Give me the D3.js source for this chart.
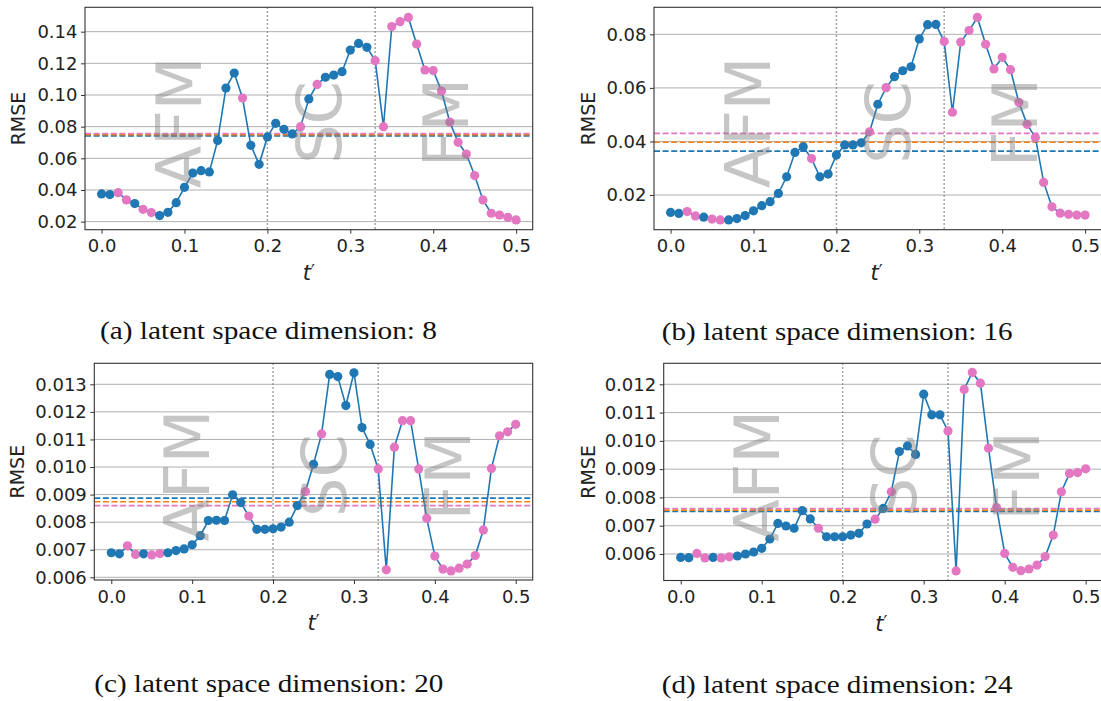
<!DOCTYPE html>
<html>
<head>
<meta charset="utf-8">
<script src="https://cdn.jsdelivr.net/npm/d3@7"></script>
<style>
  html, body { margin: 0; padding: 0; background: #fff; }
  svg { display: block; }
</style>
</head>
<body>
<script>
// ---------------- DATA ----------------
const tValues = [0.00,0.01,0.02,0.03,0.04,0.05,0.06,0.07,0.08,0.09,
                 0.10,0.11,0.12,0.13,0.14,0.15,0.16,0.17,0.18,0.19,
                 0.20,0.21,0.22,0.23,0.24,0.25,0.26,0.27,0.28,0.29,
                 0.30,0.31,0.32,0.33,0.34,0.35,0.36,0.37,0.38,0.39,
                 0.40,0.41,0.42,0.43,0.44,0.45,0.46,0.47,0.48,0.49,0.50];

// point class (b = blue, p = pink), shared by all panels
const pointClass = ["b","b","p","p","b","p","p","b","b","b",
                    "b","b","b","b","b","b","b","p","b","b",
                    "b","b","b","b","p","b","p","b","b","b",
                    "b","b","b","p","p","p","p","p","p","p",
                    "p","p","p","p","p","p","p","p","p","p","p"];

const rmseDim8 = [0.0375,0.0371,0.0383,0.0337,0.0314,0.0278,0.0257,0.0238,0.0259,0.0320,
                  0.0417,0.0507,0.0522,0.0514,0.0712,0.1044,0.1139,0.0981,0.0682,0.0562,
                  0.0735,0.0821,0.0783,0.0754,0.0800,0.0975,0.1067,0.1112,0.1126,0.1147,
                  0.1284,0.1326,0.1301,0.1217,0.0800,0.1432,0.1463,0.1490,0.1322,0.1158,
                  0.1154,0.1025,0.0829,0.0701,0.0627,0.0491,0.0337,0.0253,0.0242,0.0227,0.0211];

const rmseDim16 = [0.0135,0.0131,0.0138,0.0122,0.0117,0.0110,0.0107,0.0107,0.0112,0.0123,
                   0.0141,0.0160,0.0175,0.0206,0.0268,0.0359,0.0380,0.0336,0.0268,0.0278,
                   0.0349,0.0387,0.0387,0.0395,0.0436,0.0539,0.0601,0.0642,0.0664,0.0679,
                   0.0783,0.0836,0.0837,0.0773,0.0509,0.0771,0.0814,0.0863,0.0763,0.0671,
                   0.0714,0.0668,0.0546,0.0464,0.0415,0.0247,0.0156,0.0132,0.0128,0.0125,0.0125];

const rmseDim20 = [0.00689,0.00685,0.00714,0.00683,0.00685,0.00681,0.00686,0.00689,0.00697,0.00703,
                   0.00718,0.00751,0.00806,0.00807,0.00806,0.00899,0.00871,0.00822,0.00774,0.00774,
                   0.00776,0.00782,0.00800,0.00860,0.00911,0.01010,0.01120,0.01336,0.01328,0.01223,
                   0.01342,0.01143,0.01082,0.00993,0.00627,0.01072,0.01168,0.01168,0.00993,0.00814,
                   0.00677,0.00630,0.00623,0.00633,0.00648,0.00679,0.00772,0.00995,0.01113,0.01128,0.01155];

const rmseDim24 = [0.00588,0.00587,0.00602,0.00586,0.00588,0.00586,0.00590,0.00593,0.00600,0.00607,
                   0.00620,0.00653,0.00708,0.00699,0.00691,0.00753,0.00724,0.00691,0.00661,0.00661,
                   0.00661,0.00667,0.00673,0.00706,0.00723,0.00761,0.00820,0.00962,0.00982,0.00952,
                   0.01165,0.01092,0.01092,0.01035,0.00540,0.01182,0.01242,0.01204,0.00974,0.00764,
                   0.00602,0.00553,0.00541,0.00547,0.00561,0.00591,0.00667,0.00820,0.00885,0.00888,0.00901];

// mean levels (blue, orange, pink dashed lines)
const meanDim8  = [0.0742, 0.0749, 0.0757];
const meanDim16 = [0.0364, 0.0397, 0.0430];
const meanDim20 = [0.00887, 0.00874, 0.00860];
const meanDim24 = [0.00750, 0.00755, 0.00761];

const yTicksDim8  = [0.02,0.04,0.06,0.08,0.10,0.12,0.14];
const yTicksDim16 = [0.02,0.04,0.06,0.08];
const yTicksDim20 = [0.006,0.007,0.008,0.009,0.010,0.011,0.012,0.013];
const yTicksDim24 = [0.006,0.007,0.008,0.009,0.010,0.011,0.012];

const xTicks = [0.0,0.1,0.2,0.3,0.4,0.5];
const phaseBoundaries = [0.2, 0.33];
const regionLabels = ["AFM","SC","FM"];
const regionCenters = [0.093, 0.262, 0.415];

const captions = ["(a) latent space dimension: 8",
                  "(b) latent space dimension: 16",
                  "(c) latent space dimension: 20",
                  "(d) latent space dimension: 24"];

// ---------------- STYLE / LAYOUT ----------------
const BLUE = "#1f77b4", ORANGE = "#ff7f0e", PINK = "#e377c2";
const meanColors = [BLUE, ORANGE, PINK];
const classColor = {b: BLUE, p: PINK};

const panels = [
  {values: rmseDim8,  means: meanDim8,  yTicks: yTicksDim8,  fmt: ".2f", caption: captions[0],
   left: 85,    right: 532.7,  top: 7.3,   bottom: 229.7, xDom: [-0.02, 0.52],  yDom: [0.0149, 0.1554],
   rmseX: 25,  capX: 100,   capY: 338.5, capW: 337},
  {values: rmseDim16, means: meanDim16, yTicks: yTicksDim16, fmt: ".2f", caption: captions[1],
   left: 654,   right: 1101.7, top: 7.3,   bottom: 229.7, xDom: [-0.02, 0.52],  yDom: [0.00704, 0.0901],
   rmseX: 595, capX: 661.7, capY: 339.5, capW: 351},
  {values: rmseDim20, means: meanDim20, yTicks: yTicksDim20, fmt: ".3f", caption: captions[2],
   left: 94.3,  right: 532.7,  top: 363.3, bottom: 580,   xDom: [-0.021, 0.521], yDom: [0.005902, 0.013762],
   rmseX: 24,  capX: 94.3,  capY: 691.5, capW: 349},
  {values: rmseDim24, means: meanDim24, yTicks: yTicksDim24, fmt: ".3f", caption: captions[3],
   left: 663.7, right: 1102.7, top: 363.3, bottom: 580.5, xDom: [-0.021, 0.521], yDom: [0.005063, 0.012742],
   rmseX: 595, capX: 661.7, capY: 692.5, capW: 351}
];

const W = 1101, H = 701;
const svg = d3.select("body").append("svg").attr("width", W).attr("height", H)
  .style("font-family", "'DejaVu Sans', sans-serif");

panels.forEach((p, pi) => {
  const x = d3.scaleLinear().domain(p.xDom).range([p.left, p.right]);
  const y = d3.scaleLinear().domain(p.yDom).range([p.bottom, p.top]);
  const g = svg.append("g");
  const clipId = "clip" + pi;
  svg.append("clipPath").attr("id", clipId).append("rect")
    .attr("x", p.left).attr("y", p.top).attr("width", p.right - p.left).attr("height", p.bottom - p.top);

  const plot = g.append("g").attr("clip-path", `url(#${clipId})`);

  // horizontal grid
  plot.selectAll(".grid").data(p.yTicks).join("line")
    .attr("x1", p.left).attr("x2", p.right)
    .attr("y1", d => y(d)).attr("y2", d => y(d))
    .attr("stroke", "#b0b0b0").attr("stroke-width", 1);

  // mean dashed lines
  plot.selectAll(".mean").data(p.means).join("line")
    .attr("x1", p.left).attr("x2", p.right)
    .attr("y1", d => y(d)).attr("y2", d => y(d))
    .attr("stroke", (d, i) => meanColors[i]).attr("stroke-width", 1.6)
    .attr("stroke-dasharray", "6,2.6");

  // phase boundaries
  plot.selectAll(".vb").data(phaseBoundaries).join("line")
    .attr("x1", d => x(d)).attr("x2", d => x(d))
    .attr("y1", p.top).attr("y2", p.bottom)
    .attr("stroke", "#888").attr("stroke-width", 1.5)
    .attr("stroke-dasharray", "1.5,2.5");

  // line
  const line = d3.line().x((d, i) => x(tValues[i])).y(d => y(d));
  plot.append("path").datum(p.values).attr("d", line)
    .attr("fill", "none").attr("stroke", BLUE).attr("stroke-width", 1.6);

  // points
  plot.selectAll(".pt").data(p.values).join("circle")
    .attr("cx", (d, i) => x(tValues[i])).attr("cy", d => y(d)).attr("r", 4.6)
    .attr("fill", (d, i) => classColor[pointClass[i]]);

  // watermark region labels
  const fs = 62, cap = 0.729 * fs;
  const yc = (p.top + p.bottom) / 2 + 4;
  regionLabels.forEach((lab, i) => {
    const xc = x(regionCenters[i]) + cap / 2;
    g.append("text").text(lab)
      .attr("transform", `translate(${xc},${yc}) rotate(-90)`)
      .attr("text-anchor", "middle")
      .attr("font-size", fs).attr("fill", "#808080").attr("fill-opacity", 0.45);
  });

  // frame
  g.append("rect").attr("x", p.left).attr("y", p.top)
    .attr("width", p.right - p.left).attr("height", p.bottom - p.top)
    .attr("fill", "none").attr("stroke", "#333").attr("stroke-width", 1.1);

  // axes
  const xAxis = d3.axisBottom(x).tickValues(xTicks).tickFormat(d3.format(".1f"))
    .tickSizeOuter(0).tickSizeInner(4).tickPadding(6);
  const xg = g.append("g").attr("transform", `translate(0,${p.bottom})`).call(xAxis);
  const yAxis = d3.axisLeft(y).tickValues(p.yTicks).tickFormat(d3.format(p.fmt))
    .tickSizeOuter(0).tickSizeInner(4).tickPadding(3.5);
  const yg = g.append("g").attr("transform", `translate(${p.left},0)`).call(yAxis);
  [xg, yg].forEach(a => {
    a.select(".domain").remove();
    a.selectAll(".tick line").attr("stroke", "#333").attr("stroke-width", 1);
    a.selectAll(".tick text").attr("font-size", 18).attr("fill", "#222")
      .attr("font-family", "'DejaVu Sans', sans-serif");
  });
  xg.selectAll(".tick text").attr("dy", "0.71em");

  // axis labels
  g.append("text").text("RMSE")
    .attr("transform", `translate(${p.rmseX},${(p.top + p.bottom) / 2}) rotate(-90)`)
    .attr("text-anchor", "middle").attr("font-size", 19).attr("fill", "#222");
  const tl = g.append("text").attr("x", (p.left + Math.min(p.right, 1099)) / 2).attr("y", p.bottom + 50)
    .attr("text-anchor", "middle").attr("font-size", 21).attr("fill", "#222");
  tl.append("tspan").text("t").attr("font-style", "italic");
  tl.append("tspan").text("\u2032").attr("dy", -3).attr("font-size", 17);

  // caption
  g.append("text").text(p.caption)
    .attr("x", p.capX).attr("y", p.capY)
    .attr("font-family", "'Liberation Serif', 'Times New Roman', serif")
    .attr("font-size", 26).attr("fill", "#111")
    .attr("textLength", p.capW).attr("lengthAdjust", "spacingAndGlyphs");
});
</script>
</body>
</html>
